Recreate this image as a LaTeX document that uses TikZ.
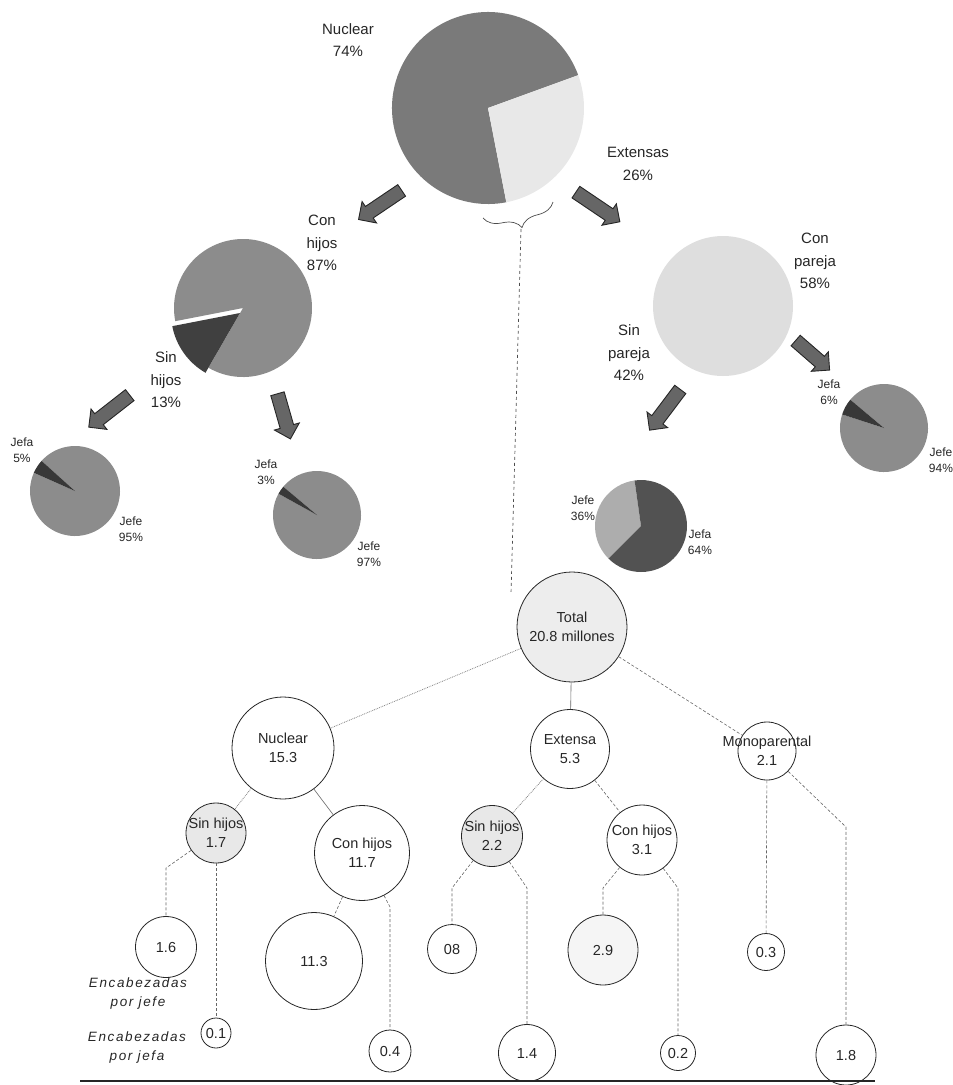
\documentclass[tikz,border=0pt]{standalone}
\usepackage{fontspec}
\setmainfont{Liberation Sans}
\usetikzlibrary{shapes.arrows,decorations.pathreplacing}
\tikzset{
  bub/.style={circle, draw=black!85, line width=0.8pt, minimum size=#1, inner sep=0pt},
  ptxt/.style={align=center, font=\fontsize{15}{22.5}\selectfont, text=black!85},
  stxt/.style={align=center, font=\fontsize{12}{16.5}\selectfont, text=black!85},
  ttxt/.style={align=center, font=\fontsize{14.5}{19}\selectfont, text=black!85},
  etxt/.style={align=center, font=\fontsize{13.5}{19}\selectfont\itshape\addfontfeatures{LetterSpace=12}, text=black!85},
  link/.style={draw=black!60, densely dashed, line width=0.6pt},
  dotlink/.style={draw=black!50, densely dotted, line width=0.8pt},
  solidlink/.style={draw=black!60, line width=0.6pt},
  blockarrow/.style={single arrow, draw=black!85, fill=black!60, line width=0.9pt, inner xsep=0pt, inner ysep=6.5pt,
    minimum height=#1, single arrow head extend=6pt, single arrow head indent=0pt},
}
\begin{document}
\begin{tikzpicture}[x=1pt, y=-1pt]
  \useasboundingbox (0,0) rectangle (953,1085);

  % pies
  \fill[black!52] (488,108) -- ++(-20:96) arc[start angle=-20, end angle=-281, radius=96] -- cycle;
  \fill[black!9] (488,108) -- ++(-281:96) arc[start angle=-281, end angle=-380, radius=96] -- cycle;

  \fill[black!45] (243,308) -- ++(-240:69) arc[start angle=-240, end angle=-551, radius=69] -- cycle;
  \fill[black!75] (240,313) -- ++(-191:69) arc[start angle=-191, end angle=-240, radius=69] -- cycle;

  \fill[black!13] (723,306) circle[radius=70];

  \fill[black!45] (75,491) -- ++(-156:45) arc[start angle=-156, end angle=-498, radius=45] -- cycle;
  \fill[black!78] (75,491) -- ++(-138:45) arc[start angle=-138, end angle=-156, radius=45] -- cycle;

  \fill[black!45] (317,515) -- ++(-151:44) arc[start angle=-151, end angle=-500, radius=44] -- cycle;
  \fill[black!78] (317,515) -- ++(-140:44) arc[start angle=-140, end angle=-151, radius=44] -- cycle;

  \fill[black!45] (884,428) -- ++(-162:44) arc[start angle=-162, end angle=-500, radius=44] -- cycle;
  \fill[black!78] (884,428) -- ++(-140:44) arc[start angle=-140, end angle=-162, radius=44] -- cycle;

  \fill[black!32] (641,526) -- ++(-98:46) arc[start angle=-98, end angle=-225, radius=46] -- cycle;
  \fill[black!68] (641,526) -- ++(-225:46) arc[start angle=-225, end angle=-458, radius=46] -- cycle;

  \node[ptxt] (lnuc) at (348,40) {Nuclear\\74\%};
  \node[ptxt] (lext) at (638,164) {Extensas\\26\%};
  \node[ptxt] (lconh) at (322,243) {Con\\hijos\\87\%};
  \node[ptxt] (lsinh) at (166,380) {Sin\\hijos\\13\%};
  \node[ptxt] (lconp) at (815,261) {Con\\pareja\\58\%};
  \node[ptxt] (lsinp) at (629,353) {Sin\\pareja\\42\%};

  \node[stxt] (j5) at (22,450) {Jefa\\5\%};
  \node[stxt] (j95) at (131,529) {Jefe\\95\%};
  \node[stxt] (j3) at (266,472) {Jefa\\3\%};
  \node[stxt] (j97) at (369,554) {Jefe\\97\%};
  \node[stxt] (j6) at (829,392) {Jefa\\6\%};
  \node[stxt] (j94) at (941,460) {Jefe\\94\%};
  \node[stxt] (j36) at (583,508) {Jefe\\36\%};
  \node[stxt] (j64) at (700,542) {Jefa\\64\%};

  \node[blockarrow=52pt, rotate=214] (arr1) at (383,203) {};
  \node[blockarrow=53pt, rotate=326] (arr2) at (595,205) {};
  \node[blockarrow=52pt, rotate=218] (arr3) at (112,409) {};
  \node[blockarrow=47pt, rotate=286] (arr4) at (283,413) {};
  \node[blockarrow=45pt, rotate=319] (arr5) at (810,353) {};
  \node[blockarrow=51pt, rotate=233] (arr6) at (667,407) {};

  \draw[decorate, decoration={brace, amplitude=18pt}, draw=black!70, line width=0.7pt] (553,202) -- (483,218);
  \coordinate (brtip) at (521,229);
  \coordinate (brend) at (511,594);
  \draw[draw=black!70, dashed, line width=0.7pt] (brtip) -- (brend);

  % tree
  \node[bub=110pt, fill=black!7, label={[ttxt]center:{Total\\20.8 millones}}] (tot) at (572,627) {};
  \node[bub=102pt, label={[ttxt]center:{Nuclear\\15.3}}] (nuc) at (283,748) {};
  \node[bub=79pt, label={[ttxt]center:{Extensa\\5.3}}] (ext) at (570,749) {};
  \node[bub=58pt, label={[ttxt]center:{Monoparental\\2.1}}] (mono) at (767,751) {};

  \node[bub=60pt, fill=black!9, label={[ttxt]center:{Sin hijos\\1.7}}] (sh1) at (216,833) {};
  \node[bub=95pt, label={[ttxt]center:{Con hijos\\11.7}}] (ch1) at (362,853) {};
  \node[bub=61pt, fill=black!9, label={[ttxt]center:{Sin hijos\\2.2}}] (sh2) at (492,836) {};
  \node[bub=70pt, label={[ttxt]center:{Con hijos\\3.1}}] (ch2) at (642,840) {};

  \node[bub=61pt, label={[ttxt]center:1.6}] (n16) at (166,947) {};
  \node[bub=30pt, label={[ttxt]center:0.1}] (n01) at (216,1033) {};
  \node[bub=97pt, label={[ttxt]center:11.3}] (n113) at (314,961) {};
  \node[bub=42pt, label={[ttxt]center:0.4}] (n04) at (390,1051) {};
  \node[bub=49pt, label={[ttxt]center:08}] (n08) at (452,949) {};
  \node[bub=57pt, label={[ttxt]center:1.4}] (n14) at (527,1053) {};
  \node[bub=70pt, fill=black!4, label={[ttxt]center:2.9}] (n29) at (603,950) {};
  \node[bub=35pt, label={[ttxt]center:0.2}] (n02) at (678,1053) {};
  \node[bub=37pt, label={[ttxt]center:0.3}] (n03) at (766,952) {};
  \node[bub=60pt, label={[ttxt]center:1.8}] (n18) at (846,1055) {};

  \node[etxt] (enc1) at (138,993) {Encabezadas\\por jefe};
  \node[etxt] (enc2) at (137,1047) {Encabezadas\\por jefa};

  \coordinate (e1) at (166,868);
  \coordinate (e2) at (390,907);
  \coordinate (e3) at (452,888);
  \coordinate (e4) at (527,888);
  \coordinate (e5) at (603,888);
  \coordinate (e6) at (678,888);
  \coordinate (e7) at (846,827);

  \draw[dotlink] (tot) -- (nuc);
  \draw[solidlink] (tot) -- (ext);
  \draw[link] (tot) -- (mono);
  \draw[dotlink] (nuc) -- (sh1);
  \draw[solidlink] (nuc) -- (ch1);
  \draw[dotlink] (ext) -- (sh2);
  \draw[link] (ext) -- (ch2);
  \draw[link] (sh1) -- (e1) -- (n16);
  \draw[link] (sh1) -- (n01);
  \draw[link] (ch1) -- (n113);
  \draw[link] (ch1) -- (e2) -- (n04);
  \draw[link] (sh2) -- (e3) -- (n08);
  \draw[link] (sh2) -- (e4) -- (n14);
  \draw[link] (ch2) -- (e5) -- (n29);
  \draw[link] (ch2) -- (e6) -- (n02);
  \draw[link] (mono) -- (n03);
  \draw[link] (mono) -- (e7) -- (n18);

  \draw[black!85, line width=1.6pt] (80,1081) -- (875,1081);
\end{tikzpicture}
\end{document}
